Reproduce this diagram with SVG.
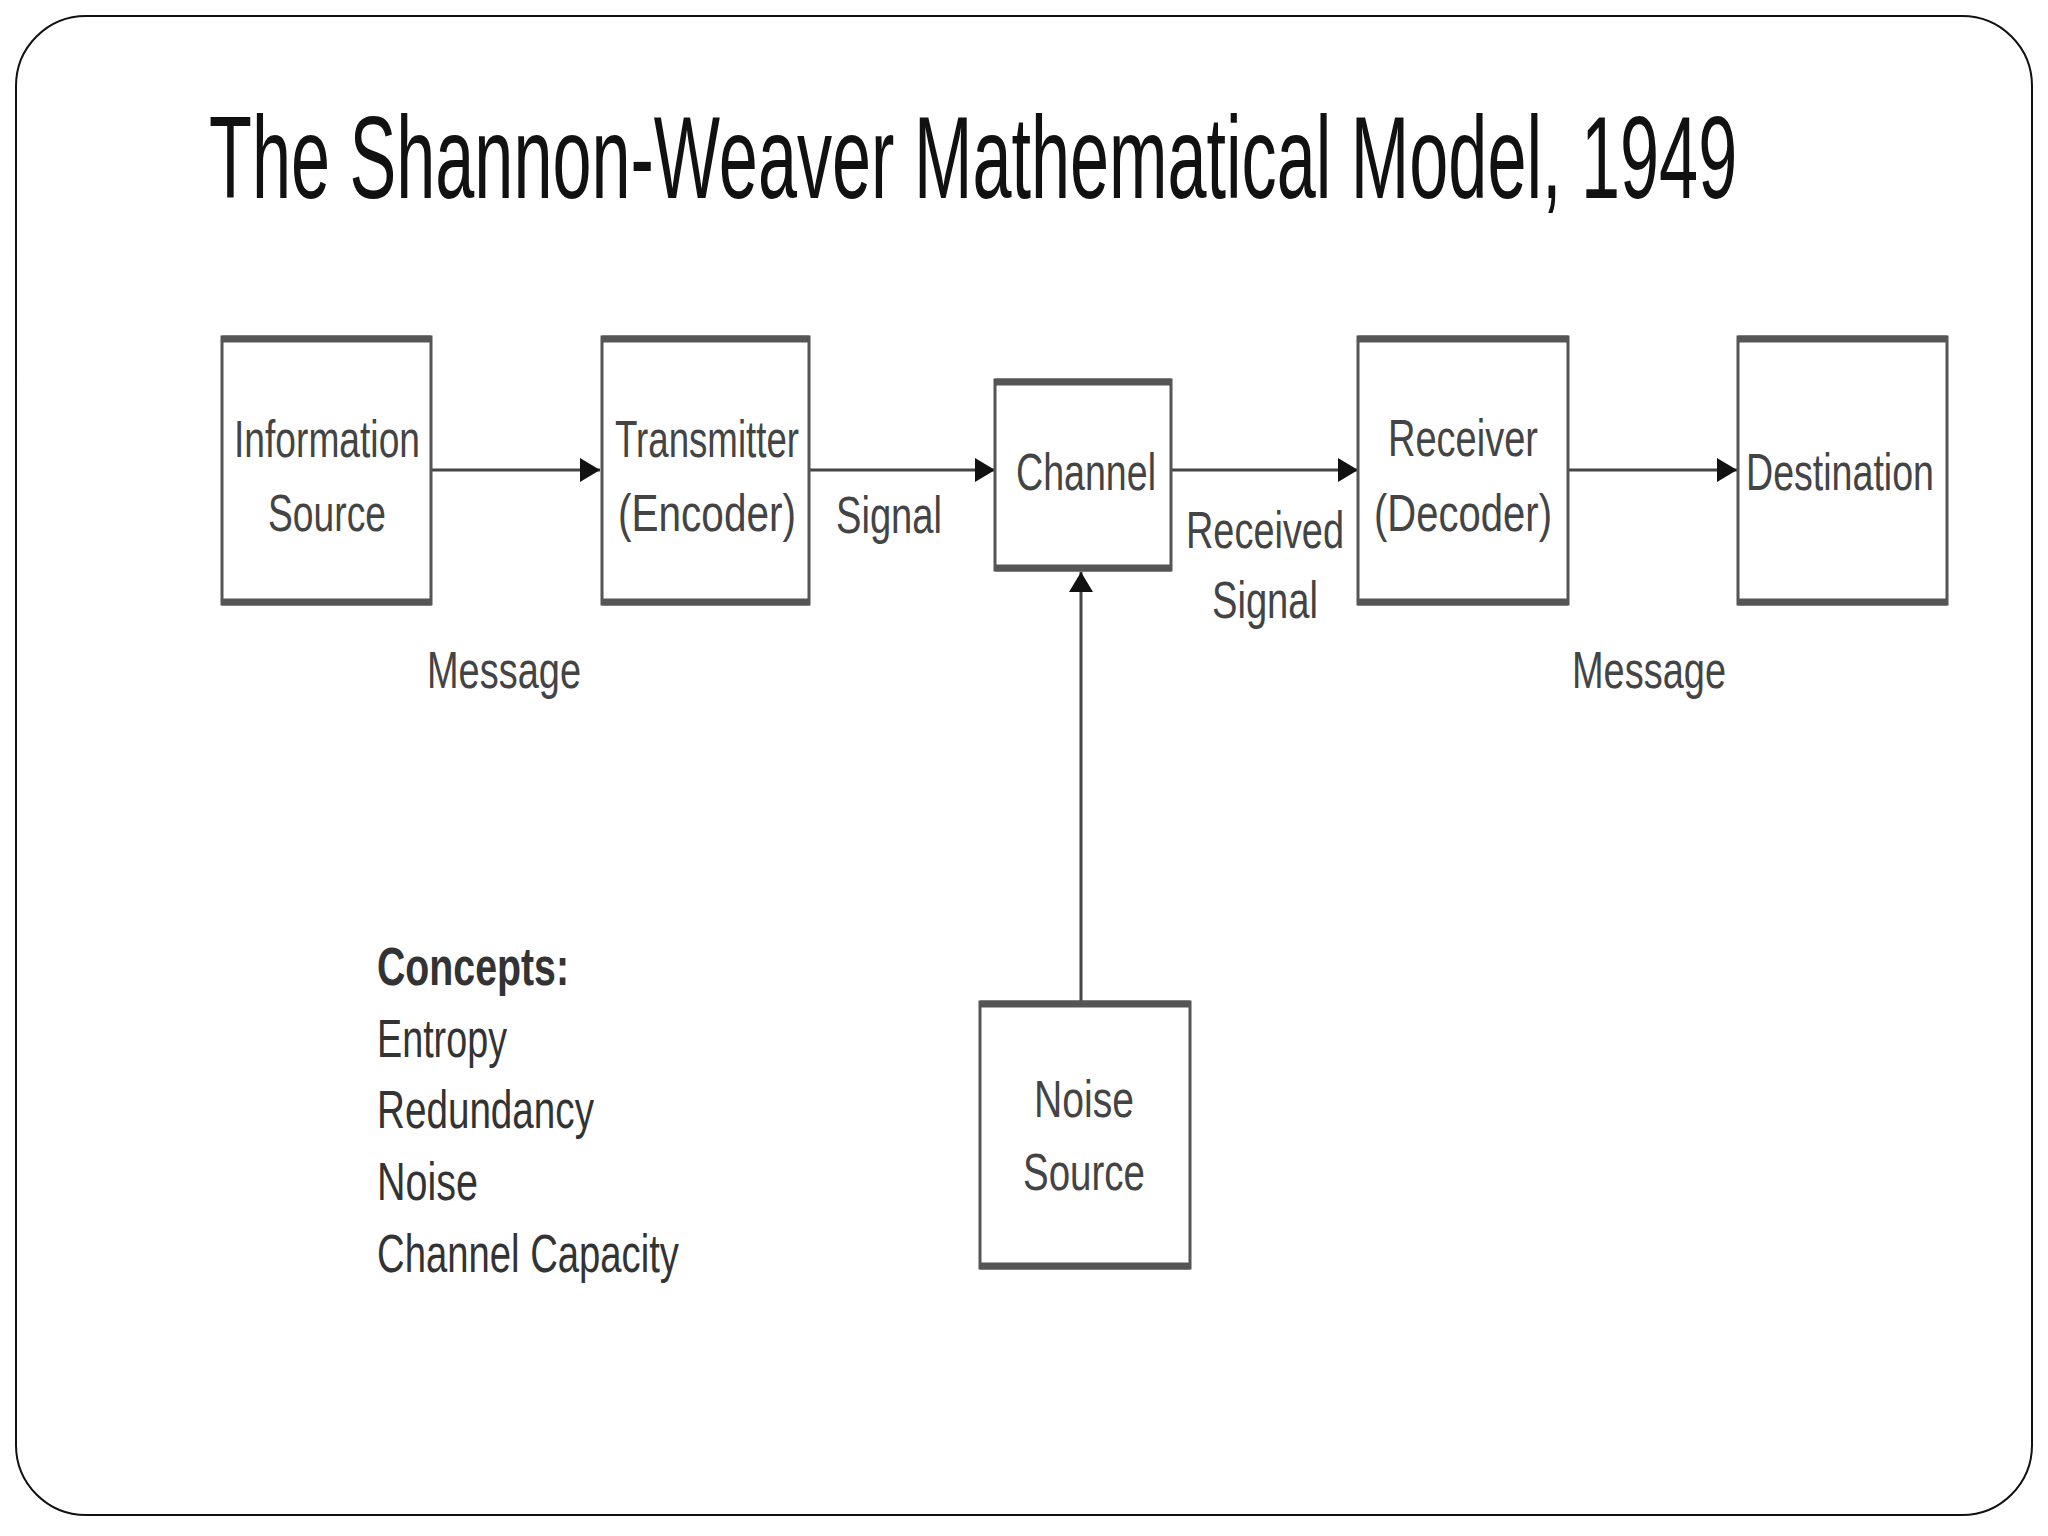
<svg xmlns="http://www.w3.org/2000/svg" width="2048" height="1536" viewBox="0 0 2048 1536">
<style>
.box{fill:#fff;stroke:#555;stroke-width:3}
.edge{stroke:#555;stroke-width:7}
.lbl{font-family:"Liberation Sans",Arial,sans-serif;font-size:52px;fill:#444;text-anchor:middle}
.conn{stroke:#444;stroke-width:3;fill:none}
.con{font-family:"Liberation Sans",Arial,sans-serif;font-size:54px;fill:#333}
</style>
<defs>
<marker id="ah" markerUnits="userSpaceOnUse" markerWidth="22" markerHeight="24" refX="20" refY="12" orient="auto">
<path d="M0,0 L20,12 L0,24 z" fill="#111"/>
</marker>
</defs>
<rect x="16" y="16" width="2016" height="1499" rx="70" ry="70" fill="#fff" stroke="#111" stroke-width="2"/>
<text transform="translate(209,198) scale(0.6,1)" x="0" y="0" font-family="Liberation Sans,Arial,sans-serif" font-size="117" fill="#111">The Shannon-Weaver Mathematical Model, 1949</text>

<g id="connectors">
<line class="conn" x1="432" y1="470" x2="600" y2="470" marker-end="url(#ah)"/>
<line class="conn" x1="810" y1="470" x2="995" y2="470" marker-end="url(#ah)"/>
<line class="conn" x1="1170" y1="470" x2="1358" y2="470" marker-end="url(#ah)"/>
<line class="conn" x1="1567" y1="470" x2="1737" y2="470" marker-end="url(#ah)"/>
<line class="conn" x1="1081" y1="1002" x2="1081" y2="572" marker-end="url(#ah)"/>
<text class="lbl" x="504" y="688" textLength="154" lengthAdjust="spacingAndGlyphs">Message</text>
<text class="lbl" x="889" y="533" textLength="106" lengthAdjust="spacingAndGlyphs">Signal</text>
<text class="lbl" x="1265" y="548" textLength="158" lengthAdjust="spacingAndGlyphs">Received</text>
<text class="lbl" x="1265" y="618" textLength="106" lengthAdjust="spacingAndGlyphs">Signal</text>
<text class="lbl" x="1649" y="688" textLength="154" lengthAdjust="spacingAndGlyphs">Message</text>
</g>

<g id="info-source">
<rect class="box" x="222" y="337" width="209" height="267"/>
<line class="edge" x1="222" y1="339" x2="431" y2="339"/><line class="edge" x1="222" y1="602" x2="431" y2="602"/>
<text class="lbl" x="327" y="457" textLength="186" lengthAdjust="spacingAndGlyphs">Information</text>
<text class="lbl" x="327" y="531" textLength="118" lengthAdjust="spacingAndGlyphs">Source</text>
</g>
<g id="transmitter">
<rect class="box" x="602" y="337" width="207" height="267"/>
<line class="edge" x1="602" y1="339" x2="809" y2="339"/><line class="edge" x1="602" y1="602" x2="809" y2="602"/>
<text class="lbl" x="707" y="457" textLength="184" lengthAdjust="spacingAndGlyphs">Transmitter</text>
<text class="lbl" x="707" y="531" textLength="178" lengthAdjust="spacingAndGlyphs">(Encoder)</text>
</g>
<g id="channel">
<rect class="box" x="995" y="380" width="176" height="190"/>
<line class="edge" x1="995" y1="382" x2="1171" y2="382"/><line class="edge" x1="995" y1="568" x2="1171" y2="568"/>
<text class="lbl" x="1086" y="490" textLength="140" lengthAdjust="spacingAndGlyphs">Channel</text>
</g>
<g id="receiver">
<rect class="box" x="1358" y="337" width="210" height="267"/>
<line class="edge" x1="1358" y1="339" x2="1568" y2="339"/><line class="edge" x1="1358" y1="602" x2="1568" y2="602"/>
<text class="lbl" x="1463" y="456" textLength="150" lengthAdjust="spacingAndGlyphs">Receiver</text>
<text class="lbl" x="1463" y="531" textLength="178" lengthAdjust="spacingAndGlyphs">(Decoder)</text>
</g>
<g id="destination">
<rect class="box" x="1738" y="337" width="209" height="267"/>
<line class="edge" x1="1738" y1="339" x2="1947" y2="339"/><line class="edge" x1="1738" y1="602" x2="1947" y2="602"/>
<text class="lbl" x="1840" y="490" textLength="188" lengthAdjust="spacingAndGlyphs">Destination</text>
</g>
<g id="noise-source">
<rect class="box" x="980" y="1002" width="210" height="266"/>
<line class="edge" x1="980" y1="1004" x2="1190" y2="1004"/><line class="edge" x1="980" y1="1266" x2="1190" y2="1266"/>
<text class="lbl" x="1084" y="1117" textLength="100" lengthAdjust="spacingAndGlyphs">Noise</text>
<text class="lbl" x="1084" y="1190" textLength="122" lengthAdjust="spacingAndGlyphs">Source</text>
</g>
<g id="concepts">
<text class="con" x="377" y="985" font-weight="bold" fill="#222" textLength="192" lengthAdjust="spacingAndGlyphs">Concepts:</text>
<text class="con" x="377" y="1057" textLength="130" lengthAdjust="spacingAndGlyphs">Entropy</text>
<text class="con" x="377" y="1128" textLength="217" lengthAdjust="spacingAndGlyphs">Redundancy</text>
<text class="con" x="377" y="1200" textLength="101" lengthAdjust="spacingAndGlyphs">Noise</text>
<text class="con" x="377" y="1272" textLength="302" lengthAdjust="spacingAndGlyphs">Channel Capacity</text>
</g>
</svg>
